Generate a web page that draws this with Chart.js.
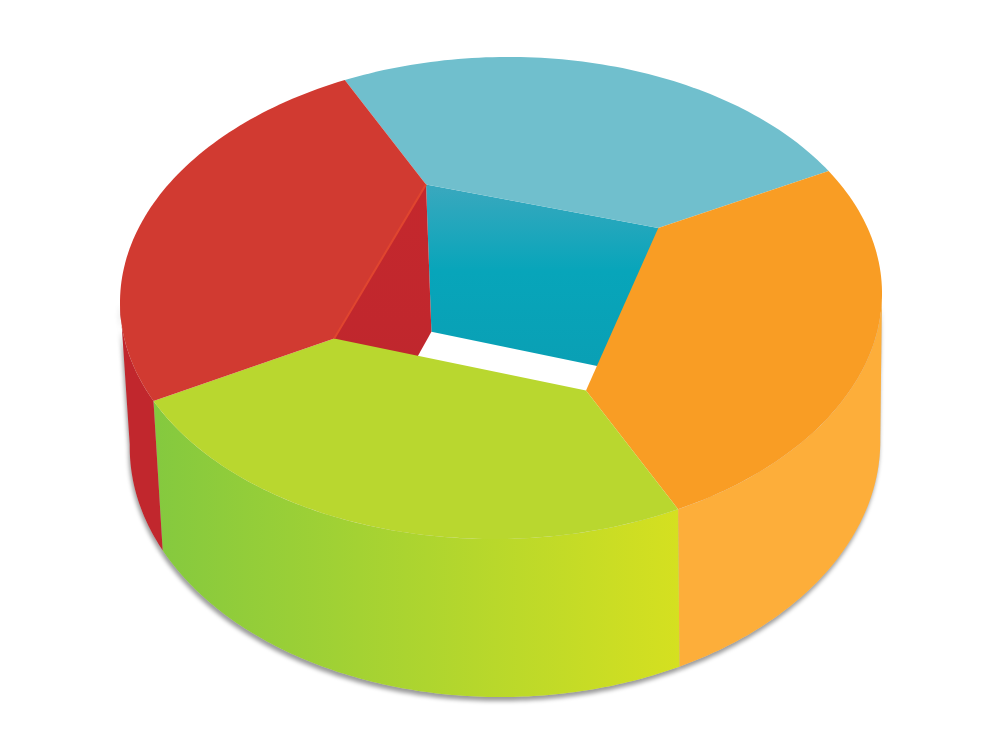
<!DOCTYPE html>
<html>
<head>
<meta charset="utf-8">
<style>
  html, body { margin: 0; background: #fff; }
  #wrap { width: 1000px; height: 750px; }
</style>
</head>
<body>
<div id="wrap"><canvas id="pie" width="1000" height="750"></canvas></div>
<script src="https://cdn.jsdelivr.net/npm/chart.js@4/dist/chart.umd.js"></script>
<script>
// chart data
const sliceNames = ['Blue', 'Orange', 'Green', 'Red'];
const sliceValues = [83.5, 93, 93.5, 90];
const startRotation = -24.2;
const topColors = ['#70bfcd', '#f99d24', '#b9d72f', '#d13a31'];
const innerColors = [['#3aa8be', '#07a5ba', '#0a9fb4'], ['#e8901f', '#e8901f', '#e8901f'], ['#a5c52c', '#a5c52c', '#a5c52c'], ['#c4282d', '#c1272d', '#b92730']];
const wallColors = [['#05a5b9', '#05a5b9'], ['#fdae3a', '#fdae3a'], ['#84c93f', '#d5e020'], ['#c1272d', '#c1272d']];

// view of the disc on the page
const view = {
    cx: 501, cy: 298, rx: 381, ry: 241, tilt: -0.012,
    depthX: 4, depthY: 146, scaleX: 0.985, scaleY: 1.05, tiltZ: 0.004,
    innerLift: -9, innerDepth: 1.05
};

// polar position on the disc -> page pixel, z 0 is top face, z 1 is bottom
function project(angle, ratio, z) {
    const x = Math.cos(angle) * ratio * view.rx * (1 + (view.scaleX - 1) * z);
    const y = Math.sin(angle) * ratio * view.ry * (1 + (view.scaleY - 1) * z) + (view.tilt + view.tiltZ * z) * x;
    const lift = ratio < 1 ? view.innerLift : 0;
    return [view.cx + view.depthX * z + x, view.cy + lift + view.depthY * z + y];
}

function fillPoly(ctx, pts, fill) {
    ctx.beginPath();
    pts.forEach((p, i) => i ? ctx.lineTo(p[0], p[1]) : ctx.moveTo(p[0], p[1]));
    ctx.closePath();
    ctx.fillStyle = fill;
    ctx.fill();
}

// angles of the part of an arc that faces the viewer
function frontAngles(a0, a1) {
    const list = [];
    const steps = 120;
    for (let i = 0; i <= steps; i++) {
        const a = a0 + (a1 - a0) * i / steps;
        if (Math.sin(a) > -0.02) list.push(a);
    }
    return list;
}

function outerWall(angles) {
    const top = angles.map(a => project(a, 1, 0));
    const bottom = angles.map(a => project(a, 1, 1)).reverse();
    return top.concat(bottom);
}

// draws the doughnut's arc elements as a solid slab
const slabPlugin = {
    id: 'slab',
    beforeDatasetsDraw(chart) {
        const ctx = chart.ctx;
        const arcs = chart.getDatasetMeta(0).data.map(arc => {
            const p = arc.getProps(['startAngle', 'endAngle', 'innerRadius', 'outerRadius']);
            return { a0: p.startAngle, a1: p.endAngle, inner: p.innerRadius / p.outerRadius };
        });

        // grey rim under the front edge
        ctx.save();
        ctx.shadowColor = 'rgba(0,0,0,0.4)';
        ctx.shadowBlur = 4;
        ctx.shadowOffsetX = -1;
        ctx.shadowOffsetY = 4;
        arcs.forEach(s => {
            const angles = frontAngles(s.a0, s.a1);
            if (angles.length > 1) fillPoly(ctx, outerWall(angles), '#ccc');
        });
        ctx.restore();

        // walls
        arcs.forEach((s, i) => {
            const angles = frontAngles(s.a0, s.a1);
            if (angles.length > 1) {
                const pts = outerWall(angles);
                const xs = pts.map(p => p[0]);
                const grad = ctx.createLinearGradient(Math.min(...xs), 0, Math.max(...xs), 0);
                grad.addColorStop(0, wallColors[i][0]);
                grad.addColorStop(1, wallColors[i][1]);
                fillPoly(ctx, pts, grad);
            }
            const a = project(s.a0, s.inner, 0), b = project(s.a1, s.inner, 0);
            if (b[0] > a[0]) {
                const c = project(s.a1, s.inner, view.innerDepth), d = project(s.a0, s.inner, view.innerDepth);
                const grad = ctx.createLinearGradient(0, Math.min(a[1], b[1]), 0, Math.max(c[1], d[1]));
                grad.addColorStop(0, innerColors[i][0]);
                grad.addColorStop(0.45, innerColors[i][1]);
                grad.addColorStop(1, innerColors[i][2]);
                fillPoly(ctx, [a, b, c, d], grad);
            }
        });

        // top faces, inner edge is straight
        arcs.forEach((s, i) => {
            const pts = [];
            for (let k = 0; k <= 80; k++) pts.push(project(s.a0 + (s.a1 - s.a0) * k / 80, 1, 0));
            pts.push(project(s.a1, s.inner, 0), project(s.a0, s.inner, 0));
            fillPoly(ctx, pts, topColors[i]);
        });

        // light edge along the red inner fold
        const red = arcs[3];
        const e0 = project(red.a0, red.inner, 0), e1 = project(red.a1, red.inner, 0);
        ctx.beginPath();
        ctx.moveTo(e0[0], e0[1]);
        ctx.lineTo(e1[0], e1[1]);
        ctx.strokeStyle = '#e0452f';
        ctx.lineWidth = 2;
        ctx.stroke();
        return false;
    }
};

new Chart(document.getElementById('pie').getContext('2d'), {
    type: 'doughnut',
    data: {
        labels: sliceNames,
        datasets: [{ data: sliceValues, backgroundColor: topColors, borderWidth: 0 }]
    },
    options: {
        responsive: false,
        animation: false,
        cutout: '48%',
        rotation: startRotation,
        layout: { padding: 0 },
        plugins: { legend: { display: false }, tooltip: { enabled: false } }
    },
    plugins: [slabPlugin]
});
</script>
</body>
</html>
